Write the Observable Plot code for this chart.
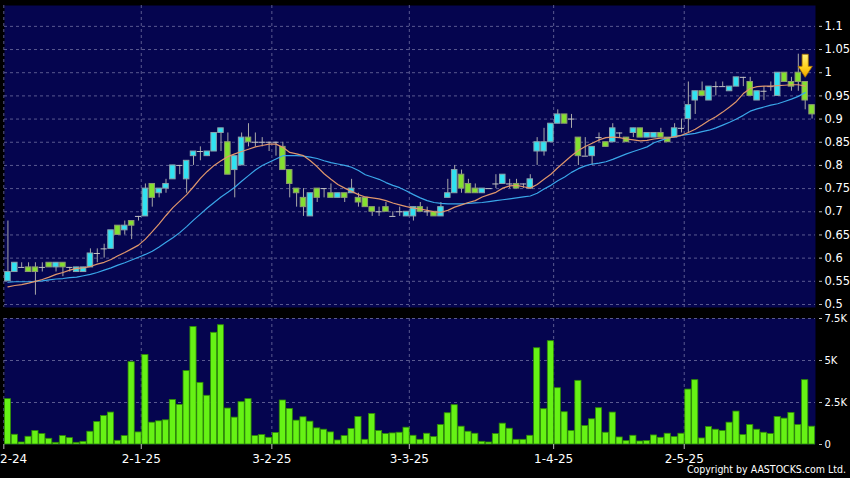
<!DOCTYPE html>
<html><head><meta charset="utf-8">
<script src="https://cdn.jsdelivr.net/npm/d3@7"></script>
<script src="https://cdn.jsdelivr.net/npm/@observablehq/plot@0.6"></script>
<style>
html,body{margin:0;padding:0;background:#000;}
#wrap{position:relative;width:850px;height:478px;background:#000;overflow:hidden;font-family:"DejaVu Sans",sans-serif;}
#price{position:absolute;left:0;top:0;}
#vol{position:absolute;left:0;top:307px;}
#copy{position:absolute;right:4px;top:463px;color:#fff;font-size:10.5px;font-family:"DejaVu Sans Condensed","Liberation Sans",sans-serif;white-space:nowrap;}
</style></head><body>
<div id="wrap"><div id="price"></div><div id="vol"></div><div id="copy">Copyright by AASTOCKS.com Ltd.</div></div>
<script>
// ---- data ----
const open = [0.55,0.57,0.58,0.58,0.58,0.58,0.59,0.58,0.59,0.58,
0.57,0.57,0.58,0.61,0.62,0.62,0.67,0.66,0.68,0.69,
0.69,0.76,0.74,0.75,0.77,0.80,0.77,0.82,0.83,0.82,
0.83,0.87,0.85,0.79,0.80,0.86,0.85,0.85,0.85,0.85,
0.84,0.79,0.75,0.73,0.69,0.75,0.75,0.74,0.73,0.74,
0.74,0.73,0.73,0.71,0.70,0.71,0.69,0.70,0.69,0.69,
0.71,0.70,0.70,0.69,0.73,0.74,0.78,0.76,0.75,0.74,
0.75,0.76,0.76,0.76,0.76,0.76,0.75,0.83,0.83,0.85,
0.89,0.91,0.90,0.86,0.82,0.82,0.86,0.85,0.85,0.87,
0.86,0.87,0.88,0.86,0.86,0.87,0.86,0.86,0.88,0.90,
0.94,0.96,0.94,0.97,0.97,0.96,0.97,0.99,0.98,0.94,
0.96,0.97,0.95,1.00,0.98,1.00,0.98,0.93];
const high = [0.68,0.59,0.59,0.59,0.59,0.59,0.59,0.59,0.59,0.58,
0.58,0.58,0.62,0.62,0.63,0.66,0.67,0.68,0.68,0.69,
0.76,0.76,0.75,0.77,0.80,0.80,0.81,0.83,0.84,0.83,
0.87,0.88,0.87,0.82,0.87,0.89,0.87,0.86,0.85,0.85,
0.85,0.79,0.75,0.75,0.74,0.75,0.75,0.76,0.74,0.74,
0.77,0.74,0.73,0.71,0.71,0.72,0.70,0.71,0.70,0.71,
0.72,0.71,0.70,0.72,0.77,0.80,0.79,0.77,0.76,0.75,
0.75,0.78,0.78,0.77,0.77,0.76,0.78,0.86,0.88,0.89,
0.92,0.91,0.91,0.86,0.86,0.84,0.87,0.85,0.89,0.87,
0.86,0.88,0.88,0.87,0.87,0.88,0.86,0.89,0.90,0.98,
0.96,0.98,0.97,0.98,0.98,0.97,0.99,0.99,0.99,0.96,
0.97,0.98,1.00,1.00,0.99,1.04,0.98,0.93];
const low = [0.55,0.57,0.58,0.57,0.52,0.57,0.58,0.57,0.56,0.57,
0.57,0.57,0.58,0.59,0.60,0.62,0.65,0.65,0.64,0.68,
0.69,0.71,0.73,0.74,0.77,0.78,0.74,0.80,0.81,0.82,
0.83,0.83,0.78,0.73,0.80,0.84,0.84,0.84,0.83,0.82,
0.79,0.73,0.71,0.69,0.69,0.72,0.73,0.73,0.73,0.72,
0.74,0.71,0.71,0.69,0.69,0.70,0.69,0.69,0.69,0.68,
0.70,0.69,0.69,0.69,0.73,0.74,0.74,0.74,0.74,0.74,
0.75,0.75,0.76,0.75,0.75,0.75,0.75,0.80,0.82,0.85,
0.89,0.89,0.88,0.80,0.82,0.80,0.85,0.84,0.85,0.86,
0.85,0.86,0.86,0.86,0.86,0.86,0.85,0.86,0.87,0.87,
0.91,0.95,0.94,0.95,0.97,0.96,0.97,0.97,0.95,0.94,
0.94,0.96,0.95,0.98,0.96,0.96,0.92,0.90];
const close = [0.57,0.59,0.58,0.57,0.57,0.58,0.58,0.59,0.58,0.58,
0.58,0.58,0.61,0.61,0.62,0.66,0.65,0.67,0.67,0.69,
0.75,0.73,0.75,0.76,0.80,0.80,0.81,0.83,0.83,0.83,
0.87,0.88,0.78,0.82,0.86,0.85,0.85,0.85,0.85,0.85,
0.79,0.76,0.74,0.71,0.74,0.73,0.75,0.73,0.74,0.73,
0.75,0.72,0.71,0.70,0.70,0.70,0.69,0.70,0.70,0.71,
0.70,0.70,0.69,0.71,0.74,0.79,0.75,0.74,0.74,0.75,
0.75,0.76,0.78,0.76,0.75,0.76,0.77,0.85,0.85,0.89,
0.91,0.89,0.90,0.82,0.82,0.84,0.86,0.84,0.88,0.87,
0.85,0.88,0.86,0.87,0.87,0.86,0.85,0.88,0.88,0.93,
0.96,0.95,0.97,0.97,0.97,0.97,0.99,0.99,0.95,0.96,
0.96,0.97,1.00,0.98,0.97,0.98,0.94,0.91];
// volume in thousands of shares
const volume = [2.7,0.58,0.12,0.46,0.8,0.62,0.34,0.1,0.5,0.38,
0.1,0.16,0.76,1.34,1.7,1.9,0.22,0.5,4.9,0.72,
5.33,1.3,1.38,1.44,2.65,2.36,4.37,7.0,3.67,2.9,
6.65,7.1,2.14,1.6,2.52,2.7,0.5,0.56,0.4,0.68,
2.62,2.12,1.42,1.62,1.36,0.96,0.88,0.72,0.24,0.5,
0.92,1.64,0.28,1.82,0.8,0.62,0.66,0.7,1.0,0.52,
0.28,0.64,0.44,1.16,1.86,2.34,1.06,0.76,0.64,0.16,
0.12,0.62,1.24,0.94,0.28,0.28,0.52,5.73,2.1,6.15,
3.35,1.92,0.8,3.79,1.1,1.5,2.16,0.7,1.9,0.42,
0.2,0.52,0.18,0.2,0.54,0.4,0.64,0.44,0.64,3.27,
3.83,0.36,1.04,0.88,0.8,1.3,1.96,0.56,1.16,0.88,
0.7,0.62,1.64,1.54,1.88,1.16,3.83,1.06];
// short moving average (orange) and long moving average (blue), read per bar
const maShort = [0.538,0.541,0.543,0.546,0.55,0.554,0.559,0.565,0.569,0.574,
0.578,0.579,0.582,0.587,0.591,0.597,0.605,0.612,0.62,0.628,
0.641,0.657,0.674,0.692,0.709,0.723,0.737,0.754,0.772,0.787,
0.80,0.81,0.819,0.825,0.83,0.835,0.84,0.843,0.846,0.846,
0.839,0.828,0.825,0.821,0.81,0.797,0.782,0.77,0.759,0.751,
0.744,0.737,0.732,0.73,0.728,0.724,0.719,0.715,0.711,0.708,
0.706,0.703,0.70,0.699,0.703,0.71,0.715,0.72,0.724,0.732,
0.737,0.742,0.751,0.756,0.757,0.754,0.751,0.759,0.77,0.781,
0.795,0.808,0.821,0.832,0.841,0.848,0.855,0.86,0.861,0.86,
0.857,0.855,0.853,0.854,0.857,0.859,0.859,0.862,0.865,0.871,
0.878,0.887,0.897,0.905,0.915,0.926,0.938,0.955,0.966,0.97,
0.971,0.971,0.972,0.973,0.974,0.974,0.971];
const maLong = [0.548,0.549,0.549,0.549,0.55,0.551,0.553,0.555,0.556,0.558,
0.559,0.562,0.565,0.569,0.574,0.579,0.585,0.59,0.596,0.602,
0.608,0.615,0.624,0.634,0.644,0.655,0.668,0.682,0.695,0.708,
0.72,0.732,0.742,0.753,0.766,0.778,0.79,0.80,0.807,0.814,
0.821,0.821,0.821,0.82,0.818,0.815,0.81,0.806,0.803,0.80,
0.796,0.789,0.78,0.775,0.77,0.763,0.757,0.752,0.745,0.737,
0.73,0.724,0.72,0.718,0.717,0.717,0.717,0.718,0.719,0.72,
0.722,0.724,0.726,0.728,0.73,0.732,0.734,0.74,0.749,0.757,
0.767,0.775,0.785,0.793,0.799,0.803,0.805,0.808,0.813,0.819,
0.825,0.83,0.835,0.84,0.849,0.854,0.859,0.862,0.865,0.867,
0.869,0.873,0.876,0.881,0.887,0.893,0.90,0.908,0.917,0.922,
0.926,0.93,0.933,0.938,0.943,0.949,0.957];
const tickIdx = [-1, 19, 38, 58, 79, 98];
const tickLabels = ["2-12-24","2-1-25","3-2-25","3-3-25","1-4-25","2-5-25"];
const priceTicks = [0.5,0.55,0.6,0.65,0.7,0.75,0.8,0.85,0.9,0.95,1,1.05,1.1];
const volTicks = [0, 2.5, 5, 7.5];
const signalIdx = [116];
const signalPrice = [1.015];

// ---- build ----
const bars = open.map((o,i)=>({i, open:o, high:high[i], low:low[i], close:close[i], vol:volume[i]}));
const up = bars.filter(d=>d.close>d.open);
const down = bars.filter(d=>d.close<d.open);
const doji = bars.filter(d=>d.close===d.open);
const ma = maShort.map((v,i)=>({i, s:v, l:maLong[i]}));
const signals = signalIdx.map((i,k)=>({i, p:signalPrice[k]}));
const xDomain = [-0.5, open.length - 0.5];
const tickPos = tickIdx.map(t=>t+0.4);
const labelAt = new Map(tickPos.map((p,k)=>[p, tickLabels[k]]));

const NAVY="#05054f", GRID="#5a5a90", WICK="#a8a8a8", CYAN="#30e2f2", LIME="#84e030",
      VOL="#66f215", ORANGE="#e0976c", BLUE="#3aa6e8";
const W=850, ML=4, MR=35;

const arrowSymbol = {draw(ctx, size){
  const r = Math.sqrt(size/Math.PI);
  const sw = r*0.27, hw = r*0.62, neck = r*0.05;
  ctx.moveTo(-sw,-r); ctx.lineTo(sw,-r); ctx.lineTo(sw,neck); ctx.lineTo(hw,neck);
  ctx.lineTo(0,r); ctx.lineTo(-hw,neck); ctx.lineTo(-sw,neck); ctx.closePath();
}};

const pricePlot = Plot.plot({
  width: W, height: 307, marginLeft: ML, marginRight: MR, marginTop: 5, marginBottom: 0,
  style: {background:"transparent", color:"#fff", fontFamily:"DejaVu Sans, sans-serif", fontSize:"11.5px", overflow:"visible"},
  x: {domain: xDomain, axis: null, label: null},
  y: {domain: [0.4935, 1.145], axis: null, label: null},
  marks: [
    Plot.frame({fill: NAVY, stroke: null}),
    Plot.ruleY(priceTicks, {stroke: GRID, strokeDasharray: "3,3"}),
    Plot.ruleX(tickPos, {stroke: GRID, strokeDasharray: "3,3"}),
    Plot.axisY(priceTicks, {anchor:"right", label: null, tickSize: 3, tickPadding: 3, dx: 3, stroke:"#bbb", fill:"#fff",
      tickFormat: d => String(+d.toFixed(2))}),
    Plot.ruleX(bars.filter(d=>d.high>d.low), {x:"i", y1:"low", y2:"high", stroke: WICK, strokeWidth: 1}),
    Plot.rect(up, {x1: d=>d.i-0.4, x2: d=>d.i+0.4, y1:"open", y2:"close", fill: CYAN, stroke:"#8aa4ac", strokeWidth: 1}),
    Plot.rect(down, {x1: d=>d.i-0.4, x2: d=>d.i+0.4, y1:"open", y2:"close", fill: LIME, stroke:"#8e9c70", strokeWidth: 1}),
    Plot.ruleY(doji, {y:"close", x1: d=>d.i-0.45, x2: d=>d.i+0.45, stroke: "#c4c4c4", strokeWidth: 1}),
    Plot.line(ma, {x:"i", y:"l", stroke: BLUE, strokeWidth: 1.2}),
    Plot.line(ma, {x:"i", y:"s", stroke: ORANGE, strokeWidth: 1.2}),
    Plot.dot(signals, {x:"i", y:"p", symbol: arrowSymbol, r: 11.5, fill: "url(#arrowGrad)", stroke: "#a87400", strokeWidth: 0.8})
  ]
});
// gradient for the signal arrow
const defs = d3.select(pricePlot).insert("defs", ":first-child");
const g = defs.append("linearGradient").attr("id","arrowGrad").attr("x1",0).attr("y1",0).attr("x2",0).attr("y2",1);
g.append("stop").attr("offset","0%").attr("stop-color","#fff07a");
g.append("stop").attr("offset","55%").attr("stop-color","#ffd21e");
g.append("stop").attr("offset","100%").attr("stop-color","#f0a000");
document.getElementById("price").append(pricePlot);

const volPlot = Plot.plot({
  width: W, height: 171, marginLeft: ML, marginRight: MR, marginTop: 11, marginBottom: 34,
  style: {background:"transparent", color:"#fff", fontFamily:"DejaVu Sans, sans-serif", fontSize:"10px"},
  x: {domain: xDomain, axis: null, label: null},
  y: {domain: [0, 7.5], axis: null, label: null},
  marks: [
    Plot.frame({fill: NAVY, stroke: null}),
    Plot.ruleY(volTicks.filter(v=>v>0), {stroke: GRID, strokeDasharray: "3,3"}),
    Plot.ruleX(tickPos, {stroke: GRID, strokeDasharray: "3,3"}),
    Plot.rect(bars, {x1: d=>d.i-0.45, x2: d=>d.i+0.45, y1: 0, y2: "vol", fill: VOL, stroke: "#2f8c05", strokeWidth: 0.8}),
    Plot.axisY(volTicks, {anchor:"right", label: null, tickSize: 3, tickPadding: 3, dx: 3, stroke:"#bbb", fill:"#fff",
      tickFormat: v => v === 0 ? "0" : v + "K"}),
    Plot.axisX(tickPos, {anchor:"bottom", label: null, tickSize: 5, tickPadding: 5, stroke:"#bbb", fill:"#fff", fontSize: 12,
      tickFormat: d => labelAt.get(d)})
  ]
});
document.getElementById("vol").append(volPlot);
</script>
</body></html>
